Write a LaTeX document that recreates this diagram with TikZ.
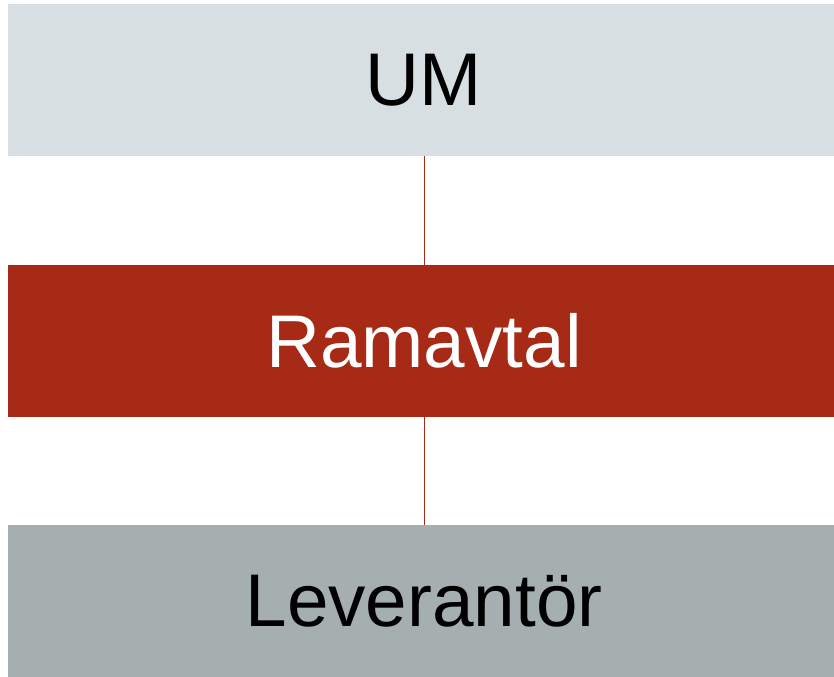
\documentclass[tikz,border=0pt]{standalone}
\usepackage{fontspec}
\setmainfont{Liberation Sans}
\definecolor{umgray}{RGB}{215,223,226}
\definecolor{ramred}{RGB}{166,42,22}
\definecolor{levgray}{RGB}{166,175,176}
\tikzset{every picture/.style={line width=0.75pt}}
\tikzset{
  level/.style={minimum width=826*0.75pt, minimum height=151.5*0.75pt, inner sep=0pt, font=\fontsize{56}{60}\selectfont},
  link/.style={draw={rgb, 255:red, 166; green, 42; blue, 22}, line width=0.75pt}
}
\newcommand{\lvltext}[1]{\raisebox{-1.5pt}{\hspace*{4.5pt}#1}}
\begin{document}
\begin{tikzpicture}[x=0.75pt,y=0.75pt,yscale=-1,xscale=1]
		\useasboundingbox (0,0) rectangle (834,676);
		
		%Boxes
		\node [level, fill=umgray, text=black] (um) at (421,80) {\lvltext{UM}};
		\node [level, fill=ramred, text=white] (ramavtal) at (421,341) {\lvltext{Ramavtal}};
		\node [level, fill=levgray, text=black] (lev) at (421,601) {\lvltext{Leverantör}};
		
		%Links
		\draw [link] ([xshift=2.5pt]um.south) -- ([xshift=2.5pt]ramavtal.north);
		\draw [link] ([xshift=2.5pt]ramavtal.south) -- ([xshift=2.5pt]lev.north);
		
\end{tikzpicture}
\end{document}
